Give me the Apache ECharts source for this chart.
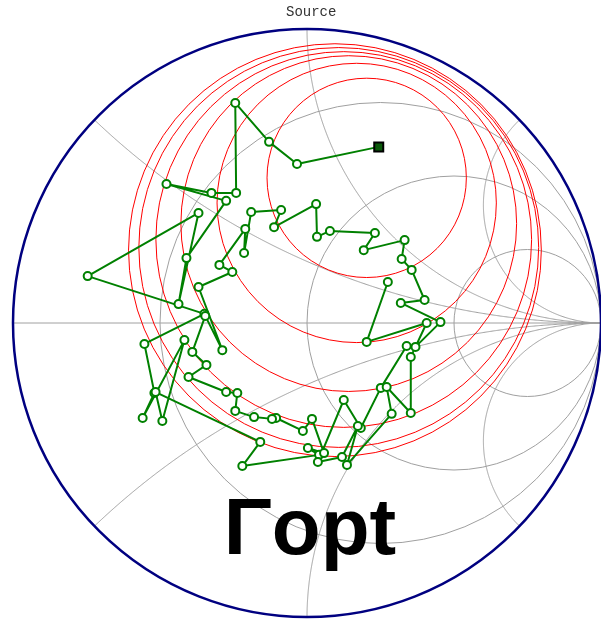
<!DOCTYPE html>
<html>
<head>
<meta charset="utf-8">
<script src="https://cdn.jsdelivr.net/npm/echarts@6/dist/echarts.min.js"></script>
<style>
  html, body { margin: 0; padding: 0; background: #ffffff; }
  #chart { width: 601px; height: 621px; }
</style>
</head>
<body>
<div id="chart"></div>
<script>
// Smith chart grid values (normalised impedance)
const gridResistance = [1 / 3, 1, 3];
const gridReactance = [0.4, 1, 2.5, -0.4, -1, -2.5];

// Constant-gain circles in the reflection-coefficient plane
const circleRe = [0.203, 0.169, 0.142, 0.125, 0.108, 0.095];
const circleIm = [0.492, 0.407, 0.337, 0.283, 0.256, 0.247];
const circleRadius = [0.339, 0.475, 0.571, 0.639, 0.680, 0.702];

// Source reflection coefficient trace (real / imaginary parts)
const sourceRe = [
  0.244, -0.034, -0.129, -0.244, -0.241, -0.325, -0.478, -0.275, -0.410, -0.437,
  -0.369, -0.746, -0.349, -0.553, -0.519, -0.559, -0.417, -0.492, -0.515, -0.159,
  -0.220, 0.041, 0.003, 0.058, 0.017, -0.014, -0.105, -0.119, -0.180, -0.244,
  -0.237, -0.275, -0.403, -0.342, -0.390, -0.346, -0.288, -0.369, -0.254, -0.298,
  -0.210, -0.214, -0.190, -0.088, -0.112, 0.031, 0.034, 0.078, 0.231, 0.193,
  0.332, 0.322, 0.356, 0.400, 0.319, 0.454, 0.369, 0.339, 0.251, 0.183,
  0.125, 0.037, 0.119, 0.173, 0.136, 0.288, 0.271, 0.353, 0.353, 0.407,
  0.203, 0.275
];
const sourceIm = [
  0.597, 0.539, 0.614, 0.746, 0.441, 0.441, 0.471, 0.414, 0.220, 0.064,
  0.373, 0.159, 0.031, -0.071, -0.237, -0.322, -0.058, -0.332, -0.234, -0.403,
  -0.485, -0.447, -0.424, -0.441, -0.325, -0.366, -0.322, -0.325, -0.319, -0.298,
  -0.237, -0.234, -0.183, -0.142, -0.098, 0.024, -0.092, 0.122, 0.173, 0.197,
  0.319, 0.237, 0.376, 0.383, 0.325, 0.403, 0.292, 0.312, 0.305, 0.247,
  0.281, 0.217, 0.180, 0.078, 0.068, 0.003, -0.081, -0.078, -0.220, -0.356,
  -0.261, -0.471, -0.454, -0.349, -0.481, -0.308, -0.217, -0.305, -0.115, 0.000,
  -0.064, 0.139
];

// z -> Gamma mapping
function gammaOf(r, x) {
  const den = (r + 1) * (r + 1) + x * x;
  return [(r * r + x * x - 1) / den, (2 * x) / den];
}

// Constant-reactance arc as a polyline, r running from 0 towards infinity
function reactancePoints(x) {
  const pts = [];
  const n = 500;
  for (let i = 0; i <= n; i++) {
    const t = (i / n) * 0.9995;
    const r = t / (1 - t);
    pts.push(gammaOf(r, x));
  }
  pts.push([1, 0]);
  return pts;
}

const GRID_GRAY = '#a0a0a0';

const chart = echarts.init(document.getElementById('chart'), null, { renderer: 'canvas' });

const pathData = sourceRe.map((re, i) => {
  const item = { value: [re, sourceIm[i]] };
  if (i === 0) {
    item.symbol = 'rect';
    item.symbolSize = 9;
    item.itemStyle = { color: '#0a5a0a', borderColor: '#000000', borderWidth: 2 };
  }
  return item;
});

chart.setOption({
  animation: false,
  backgroundColor: '#ffffff',
  grid: { left: 13, top: 28, width: 590, height: 590 },
  xAxis: { type: 'value', min: -1, max: 1, show: false },
  yAxis: { type: 'value', min: -1, max: 1, show: false },
  graphic: [
    {
      type: 'text', left: 286, top: 5, z: 20,
      style: { text: 'Source', font: '14px "Liberation Mono", "DejaVu Sans Mono", monospace', fill: '#333333' }
    },
    {
      type: 'text', z: 30,
      x: 310, y: 532,
      style: {
        text: 'Γopt',
        font: 'bold 80px "Liberation Sans", Arial, sans-serif',
        fill: '#000000',
        textAlign: 'center',
        textVerticalAlign: 'middle'
      }
    }
  ],
  series: [
    // real axis
    {
      type: 'line', z: 1, silent: true, symbol: 'none',
      data: [[-1, 0], [1, 0]],
      lineStyle: { color: GRID_GRAY, width: 1 }
    },
    // constant-resistance circles
    {
      type: 'custom', z: 1, silent: true,
      data: gridResistance.map(r => [r]),
      renderItem: (params, api) => {
        const r = api.value(0);
        const c = api.coord([r / (1 + r), 0]);
        const rad = api.size([1 / (1 + r), 0])[0];
        return {
          type: 'circle',
          shape: { cx: c[0], cy: c[1], r: rad },
          style: { fill: 'none', stroke: GRID_GRAY, lineWidth: 1 }
        };
      }
    },
    // constant-reactance arcs
    {
      type: 'custom', z: 1, silent: true,
      data: gridReactance.map(x => [x]),
      renderItem: (params, api) => {
        const pts = reactancePoints(api.value(0)).map(p => api.coord(p));
        return {
          type: 'polyline',
          shape: { points: pts },
          style: { fill: 'none', stroke: GRID_GRAY, lineWidth: 1 }
        };
      }
    },
    // gain circles
    {
      type: 'custom', z: 2, silent: true,
      data: circleRe.map((re, i) => [re, circleIm[i], circleRadius[i]]),
      renderItem: (params, api) => {
        const c = api.coord([api.value(0), api.value(1)]);
        const rad = api.size([api.value(2), 0])[0];
        return {
          type: 'circle',
          shape: { cx: c[0], cy: c[1], r: rad },
          style: { fill: 'none', stroke: '#ff0000', lineWidth: 1 }
        };
      }
    },
    // |Gamma| = 1 boundary
    {
      type: 'custom', z: 3, silent: true,
      data: [[0, 0, 1]],
      renderItem: (params, api) => {
        const c = api.coord([api.value(0), api.value(1)]);
        const rad = api.size([api.value(2), 0])[0];
        return {
          type: 'circle',
          shape: { cx: c[0], cy: c[1], r: rad },
          style: { fill: 'none', stroke: '#000080', lineWidth: 2.5 }
        };
      }
    },
    // source trace
    {
      type: 'line', z: 5,
      data: pathData,
      symbol: 'emptyCircle',
      symbolSize: 8,
      lineStyle: { color: '#008000', width: 2 },
      itemStyle: { color: '#008000', borderColor: '#008000', borderWidth: 2 }
    }
  ]
});
</script>
</body>
</html>
